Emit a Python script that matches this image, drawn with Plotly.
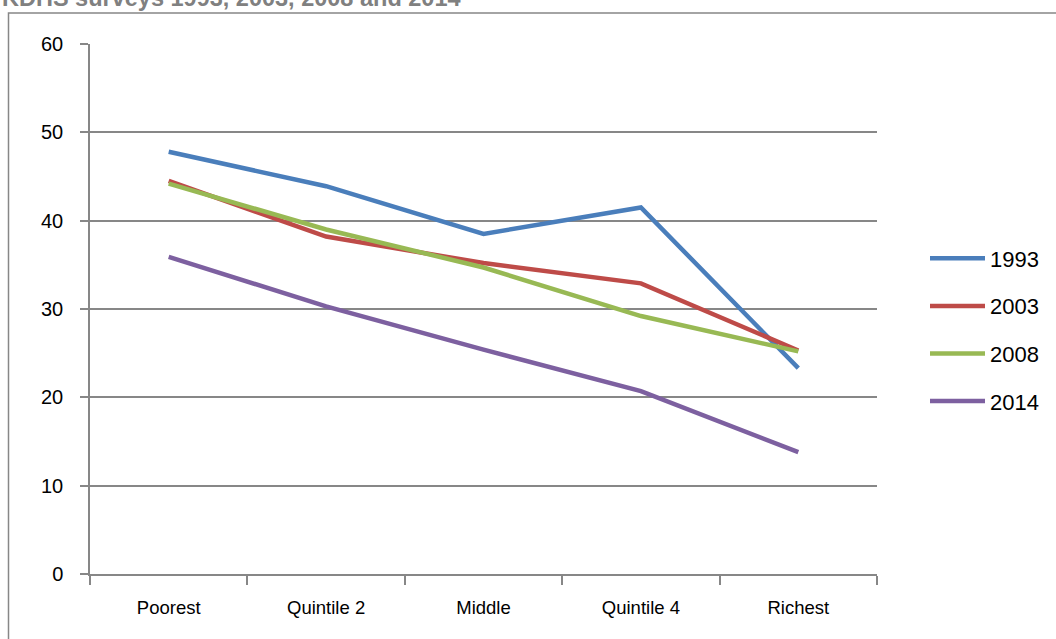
import plotly.graph_objects as go

categories = ["Poorest", "Quintile 2", "Middle", "Quintile 4", "Richest"]
s1993 = [47.8, 43.9, 38.5, 41.5, 23.3]
s2003 = [44.5, 38.2, 35.2, 32.9, 25.3]
s2008 = [44.2, 39.0, 34.7, 29.2, 25.2]
s2014 = [35.9, 30.3, 25.4, 20.7, 13.8]
series_names = ["1993", "2003", "2008", "2014"]
colors = ["#4a7ebb", "#be4b48", "#98b954", "#7d60a0"]
title_text = "KDHS surveys 1993, 2003, 2008 and 2014"

FONT = "Liberation Sans"
GRID = "#878787"

fig = go.Figure()
for name, vals, col in zip(series_names, [s1993, s2003, s2008, s2014], colors):
    fig.add_trace(go.Scatter(
        x=categories, y=vals, name=name, mode="lines",
        line=dict(color=col, width=4.5), legendgroup=name,
    ))

W, H = 1056, 639
L, R, T, B = 90, 179, 44, 65
pw = W - L - R
ph = H - T - B

def px_x(px):
    return (px - L) / pw

def px_y(py):
    return (H - B - py) / ph

fig.update_layout(
    width=W, height=H,
    margin=dict(l=L, r=R, t=T, b=B, autoexpand=False),
    paper_bgcolor="white", plot_bgcolor="white",
    font=dict(family=FONT, size=18, color="black"),
    showlegend=True,
    legend=dict(
        x=px_x(925), y=px_y(330), xanchor="left", yanchor="middle",
        font=dict(family=FONT, size=22, color="black"),
        tracegroupgap=16, bgcolor="rgba(0,0,0,0)",
        itemwidth=55,
    ),
    xaxis=dict(
        type="category", range=[-0.5, 4.5],
        showline=True, linecolor=GRID, linewidth=1.5,
        ticks="outside", tickson="boundaries", ticklen=9,
        tickcolor=GRID, tickwidth=1.5,
        showgrid=False, ticklabelstandoff=16,
        tickfont=dict(family=FONT, size=18.5, color="black"),
        fixedrange=True,
    ),
    yaxis=dict(
        range=[0, 60], dtick=10, tick0=0,
        showline=True, linecolor=GRID, linewidth=1.5,
        ticks="outside", ticklen=8, tickcolor=GRID, tickwidth=1.5,
        showgrid=True, gridcolor=GRID, gridwidth=1.5,
        zeroline=False, ticklabelstandoff=13,
        tickfont=dict(family=FONT, size=20, color="black"),
        fixedrange=True,
    ),
)

# chart-area border (extends beyond the visible page on right and bottom)
fig.add_shape(
    type="rect", xref="paper", yref="paper",
    x0=px_x(8.5), x1=px_x(1200), y0=px_y(800), y1=px_y(13),
    line=dict(color=GRID, width=1.5), fillcolor="rgba(0,0,0,0)",
    layer="below",
)

# partially visible title at top
fig.add_annotation(
    text="<b>" + title_text + "</b>", xref="paper", yref="paper",
    x=px_x(463), y=px_y(13), xanchor="right", yanchor="bottom",
    showarrow=False,
    font=dict(family=FONT, size=23.5, color="#808080"),
)

fig.write_html(
    "out.html",
    config={"displayModeBar": False},
    post_script="document.body.style.margin='0';document.body.style.overflow='hidden';",
)
